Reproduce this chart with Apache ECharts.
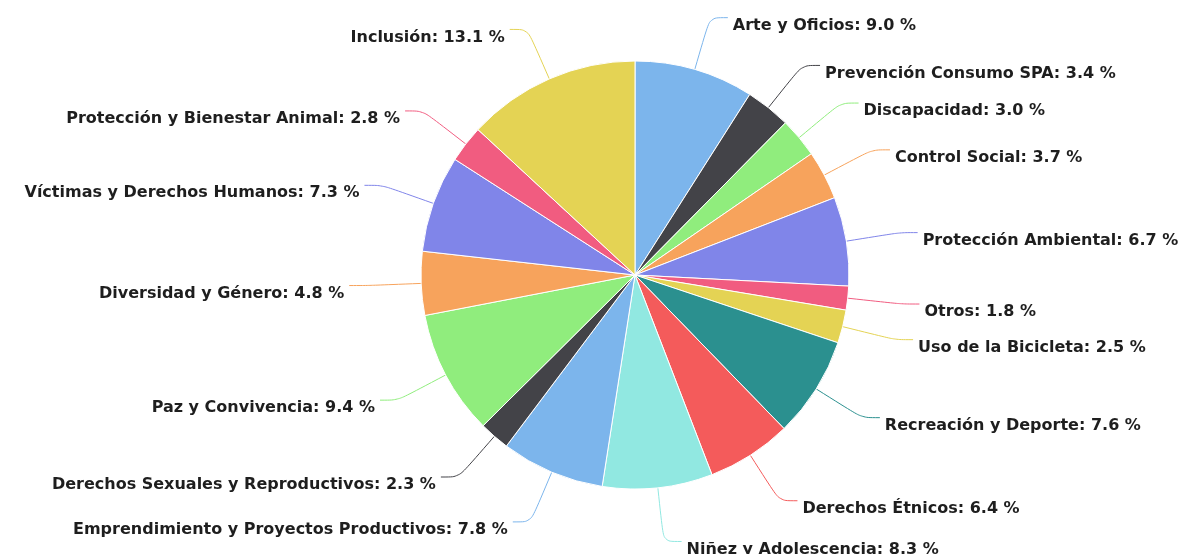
<!DOCTYPE html>
<html>
<head>
<meta charset="utf-8">
<script src="https://cdn.jsdelivr.net/npm/echarts@6/dist/echarts.min.js"></script>
<style>
  html, body { margin: 0; padding: 0; background: #fff; }
  #chart { width: 1193px; height: 554px; }
</style>
</head>
<body>
<div id="chart"></div>
<script>
var categories = [
    'Arte y Oficios', 'Prevención Consumo SPA', 'Discapacidad', 'Control Social',
    'Protección Ambiental', 'Otros', 'Uso de la Bicicleta', 'Recreación y Deporte',
    'Derechos Étnicos', 'Niñez y Adolescencia', 'Emprendimiento y Proyectos Productivos',
    'Derechos Sexuales y Reproductivos', 'Paz y Convivencia', 'Diversidad y Género',
    'Víctimas y Derechos Humanos', 'Protección y Bienestar Animal', 'Inclusión'
];
var shares = [9.0, 3.4, 3.0, 3.7, 6.7, 1.8, 2.5, 7.6, 6.4, 8.3, 7.8, 2.3, 9.4, 4.8, 7.3, 2.8, 13.1];

var palette = ['#7cb5ec', '#434348', '#90ed7d', '#f7a35c', '#8085e9',
               '#f15c80', '#e4d354', '#2b908f', '#f45b5b', '#91e8e1'];

var pieData = categories.map(function (name, i) {
    return { name: name, value: shares[i] };
});

var myChart = echarts.init(document.getElementById('chart'));
myChart.setOption({
    animation: false,
    color: palette,
    series: [
        {
            type: 'pie',
            center: [635, 275],
            radius: 214,
            startAngle: 90,
            clockwise: true,
            itemStyle: {
                borderColor: '#fff',
                borderWidth: 1
            },
            label: {
                show: true,
                color: '#1e1e1e',
                fontFamily: 'DejaVu Sans',
                fontWeight: 'bold',
                fontSize: 16,
                formatter: function (p) {
                    return p.name + ': ' + p.value.toFixed(1) + ' %';
                }
            },
            labelLine: {
                show: true,
                length: 54,
                length2: 18,
                smooth: 0.3,
                lineStyle: { width: 1 }
            },
            // text sits a little below the connector end, like the original
            labelLayout: { dy: 8 },
            data: pieData
        }
    ]
});
</script>
</body>
</html>
